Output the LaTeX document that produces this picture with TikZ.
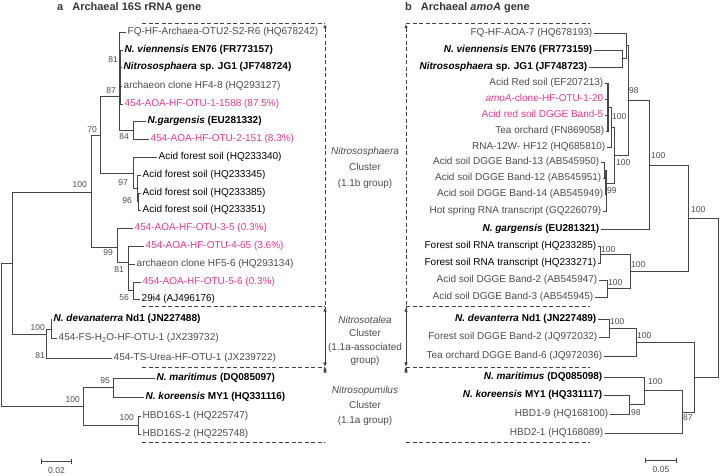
\documentclass[tikz,border=0pt]{standalone}
\usepackage{fontspec}
\setmainfont{Liberation Sans}
\usetikzlibrary{arrows.meta}
\definecolor{treeline}{RGB}{70,70,70}
\definecolor{leafgray}{RGB}{75,75,75}
\definecolor{titlegray}{RGB}{55,55,55}
\definecolor{otupink}{RGB}{224,60,145}
\definecolor{dashgray}{RGB}{65,65,65}
\tikzstyle{leafa}=[anchor=west, inner sep=1.5pt, text height=7.2pt, text depth=2pt, font=\fontsize{10}{12}\selectfont, text=leafgray]
\tikzstyle{leafb}=[leafa, anchor=east]
\tikzstyle{strain}=[text=black, font=\fontsize{10}{12}\selectfont\bfseries]
\tikzstyle{otu}=[text=otupink]
\tikzstyle{env}=[text=black]
\tikzstyle{br}=[draw=treeline, line width=0.8pt]
\tikzstyle{boot}=[inner sep=0pt, font=\fontsize{8.5}{10}\selectfont, text=leafgray]
\tikzstyle{clusterbox}=[draw=dashgray, line width=0.8pt, dash pattern=on 4pt off 2.5pt]
\tikzstyle{clusterarrow}=[clusterbox, {Latex[length=4pt,width=3.5pt]}-{Latex[length=4pt,width=3.5pt]}]
\tikzstyle{clusterlabel}=[align=center, text=leafgray, inner sep=0pt]
\tikzstyle{paneltitle}=[anchor=west, inner sep=0pt, font=\fontsize{11}{13}\selectfont\bfseries, text=titlegray]
\begin{document}
\begin{tikzpicture}[x=1pt,y=-1pt]
\useasboundingbox (0,0) rectangle (720,475);
\node[paneltitle] (ta) at (57,8) {a\hspace{9pt}Archaeal 16S rRNA gene};
\node[paneltitle] (tb) at (405,8) {b\hspace{9pt}Archaeal \textit{amoA} gene};

\node[leafa] (a1) at (126,32) {FQ-HF-Archaea-OTU2-S2-R6 (HQ678242)};
\node[leafa,strain] (a2) at (123,50) {\textit{N. viennensis} EN76 (FR773157)};
\node[leafa,strain] (a3) at (122,67) {\textit{Nitrososphaera} sp. JG1 (JF748724)};
\node[leafa] (a4) at (122,86) {archaeon clone HF4-8 (HQ293127)};
\node[leafa,otu] (a5) at (123,104) {454-AOA-HF-OTU-1-1588 (87.5\%)};
\node[leafa,strain] (a6) at (146,121) {\textit{N.gargensis} (EU281332)};
\node[leafa,otu] (a7) at (149,139) {454-AOA-HF-OTU-2-151 (8.3\%)};
\node[leafa,env] (a8) at (157,157) {Acid forest soil (HQ233340)};
\node[leafa,env] (a9) at (141,175) {Acid forest soil (HQ233345)};
\node[leafa,env] (a10) at (141,193) {Acid forest soil (HQ233385)};
\node[leafa,env] (a11) at (141,210) {Acid forest soil (HQ233351)};
\node[leafa,otu] (a12) at (133,228) {454-AOA-HF-OTU-3-5 (0.3\%)};
\node[leafa,otu] (a13) at (144,246) {454-AOA-HF-OTU-4-65 (3.6\%)};
\node[leafa] (a14) at (135,264) {archaeon clone HF5-6 (HQ293134)};
\node[leafa,otu] (a15) at (141,282) {454-AOA-HF-OTU-5-6 (0.3\%)};
\node[leafa,env] (a16) at (140,299) {29i4 (AJ496176)};
\node[leafa,strain] (a17) at (52,319) {\textit{N. devanaterra} Nd1 (JN227488)};
\node[leafa] (a18) at (57,338) {454-FS-H\textsubscript{2}O-HF-OTU-1 (JX239732)};
\node[leafa] (a19) at (112,358) {454-TS-Urea-HF-OTU-1 (JX239722)};
\node[leafa,strain] (a20) at (155,378) {\textit{N. maritimus} (DQ085097)};
\node[leafa,strain] (a21) at (144,397) {\textit{N. koreensis} MY1 (HQ331116)};
\node[leafa] (a22) at (141,416) {HBD16S-1 (HQ225747)};
\node[leafa] (a23) at (141,434) {HBD16S-2 (HQ225748)};

\coordinate (ia81) at (120,77);
\coordinate (ia84) at (133,130);
\coordinate (ia87) at (119,96);
\coordinate (ia96) at (138,201.5);
\coordinate (ia97) at (137,188);
\coordinate (iaAF) at (133,173);
\coordinate (ia70) at (100,135);
\coordinate (ia56) at (133,290.5);
\coordinate (ia81b) at (128,262);
\coordinate (ia99) at (117,247);
\coordinate (ia100) at (91,192);
\coordinate (iaDF) at (51,329);
\coordinate (iaTal) at (46,334);
\coordinate (ia12) at (12,263);
\coordinate (ia95) at (113,387.5);
\coordinate (iaHBD) at (138,425);
\coordinate (iaPum) at (83,406);
\coordinate (iaR) at (1.5,334);
\foreach \p/\c in {ia87/a1.west, ia87/ia81, ia87/ia84, ia81/a2.west, ia81/a3.west, ia81/a4.west, ia81/a5.west, ia84/a6.west, ia84/a7.west, ia70/ia87, ia70/iaAF, iaAF/a8.west, iaAF/ia97, ia97/a9.west, ia97/ia96, ia96/a10.west, ia96/a11.west, ia100/ia70, ia100/ia99, ia99/a12.west, ia99/ia81b, ia81b/a13.west, ia81b/a14.west, ia81b/ia56, ia56/a15.west, ia56/a16.west, ia12/ia100, ia12/iaTal, iaTal/iaDF, iaTal/a19.west, iaDF/a17.west, iaDF/a18.west, iaPum/ia95, iaPum/iaHBD, ia95/a20.west, ia95/a21.west, iaHBD/a22.west, iaHBD/a23.west, iaR/ia12, iaR/iaPum}
{
\draw[br] (\p) |- (\c);
}
\draw[br, line width=1.4pt] (ia81 |- a2.west) -- (ia81 |- a5.west);
\foreach \x/\y/\v [count=\i] in {118/60/81, 116/91/87, 97/130/70, 129/137/84, 87/185/100, 128/183/97, 132/201/96, 113/253/99, 124/270/81, 129/298/56, 45/328/100, 45/356/81, 110/381/95, 80/400/100, 134/418/100}
{
\node[boot,anchor=east] (la\i) at (\x,\y) {\v};
}

\node[leafb] (b1) at (594,33) {FQ-HF-AOA-7 (HQ678193)};
\node[leafb,strain] (b2) at (594,50) {\textit{N. viennensis} EN76 (FR773159)};
\node[leafb,strain] (b3) at (589,67) {\textit{Nitrososphaera} sp. JG1 (JF748723)};
\node[leafb] (b4) at (605,83) {Acid Red soil (EF207213)};
\node[leafb,otu] (b5) at (605,99) {\textit{amoA}-clone-HF-OTU-1-20};
\node[leafb,otu] (b6) at (605,115) {Acid red soil DGGE Band-5};
\node[leafb] (b7) at (606,131) {Tea orchard (FN869058)};
\node[leafb] (b8) at (607,147) {RNA-12W- HF12 (HQ685810)};
\node[leafb] (b9) at (601,162) {Acid soil DGGE Band-13 (AB545950)};
\node[leafb] (b10) at (603,178) {Acid soil DGGE Band-12 (AB545951)};
\node[leafb] (b11) at (605,194) {Acid soil DGGE Band-14 (AB545949)};
\node[leafb] (b12) at (603,211) {Hot spring RNA transcript (GQ226079)};
\node[leafb,strain] (b13) at (601,229) {\textit{N. gargensis} (EU281321)};
\node[leafb,env] (b14) at (598,246) {Forest soil RNA transcript (HQ233285)};
\node[leafb,env] (b15) at (598,263) {Forest soil RNA transcript (HQ233271)};
\node[leafb] (b16) at (599,280) {Acid soil DGGE Band-2 (AB545947)};
\node[leafb] (b17) at (595,297) {Acid soil DGGE Band-3 (AB545945)};
\node[leafb,strain] (b18) at (598,319) {\textit{N. devanterra} Nd1 (JN227489)};
\node[leafb] (b19) at (599,337) {Forest soil DGGE Band-2 (JQ972032)};
\node[leafb] (b20) at (604,356) {Tea orchard DGGE Band-6 (JQ972036)};
\node[leafb,strain] (b21) at (604,377) {\textit{N. maritimus} (DQ085098)};
\node[leafb,strain] (b22) at (604,395) {\textit{N. koreensis} MY1 (HQ331117)};
\node[leafb] (b23) at (610,414) {HBD1-9 (HQ168100)};
\node[leafb] (b24) at (605,433) {HBD2-1 (HQ168089)};

\coordinate (ibA) at (622,58.5);
\coordinate (ibB) at (626,45.75);
\coordinate (ibC1) at (608,107);
\coordinate (ibC) at (611,127);
\coordinate (ibD1) at (604,170);
\coordinate (ibD) at (606,183);
\coordinate (ibE) at (614,155);
\coordinate (ib98) at (628,100.4);
\coordinate (ibF) at (649,165.5);
\coordinate (ibI1) at (600,254.5);
\coordinate (ibI2) at (607,288.5);
\coordinate (ibI) at (630,271.5);
\coordinate (ibG) at (688,218.5);
\coordinate (ibJp) at (609,328);
\coordinate (ibJ) at (636,342);
\coordinate (ibK1) at (629,404.5);
\coordinate (ibK) at (644,390.75);
\coordinate (ibL) at (682,411.9);
\coordinate (ibH) at (694,377);
\coordinate (ibR) at (718,297.75);
\foreach \p/\c in {ibB/b1.east, ibB/ibA, ibA/b2.east, ibA/b3.east, ib98/ibB, ib98/ibE, ibE/ibC, ibE/ibD, ibC/ibC1, ibC/b8.east, ibC1/b4.east, ibC1/b5.east, ibC1/b6.east, ibC1/b7.east, ibD/ibD1, ibD/b11.east, ibD/b12.east, ibD1/b9.east, ibD1/b10.east, ibF/ib98, ibF/b13.east, ibG/ibF, ibG/ibI, ibI/ibI1, ibI/ibI2, ibI1/b14.east, ibI1/b15.east, ibI2/b16.east, ibI2/b17.east, ibR/ibG, ibR/ibH, ibH/ibJ, ibH/ibL, ibJ/ibJp, ibJ/b20.east, ibJp/b18.east, ibJp/b19.east, ibL/ibK, ibL/b24.east, ibK/b21.east, ibK/ibK1, ibK1/b22.east, ibK1/b23.east}
{
\draw[br] (\p) |- (\c);
}
\draw[br, line width=1.4pt] (ibC1 |- b4.east) -- (ibC1 |- b7.east);
\draw[br, line width=1.4pt] (ibD |- ibD1) -- (ibD |- b11.east);
\foreach \x/\y/\v [count=\i] in {629/91/98, 612/117/100, 616/163/100, 607/191/99, 651/156/100, 691/210/100, 601/250/100, 631/265/100, 608/283/100, 610/322/100, 637/336/100, 648/382/100, 631/413/98, 683/418/87}
{
\node[boot,anchor=west] (lb\i) at (\x,\y) {\v};
}

\foreach \y [count=\i] in {23,306.5,367.5,442.5}
{
\coordinate (sa\i) at (142,\y);
\coordinate (ea\i) at (325,\y);
\coordinate (sb\i) at (406,\y);
\coordinate (eb\i) at (590,\y);
\draw[clusterbox] (sa\i) -- (ea\i) (sb\i) -- (eb\i);
}
\foreach \i in {1,2,3}
{
\pgfmathparse{int(\i+1)}
\draw[clusterarrow] ([yshift=-1pt]ea\i) -- ([yshift=1pt]ea\pgfmathresult);
\draw[clusterarrow] ([yshift=-1pt]sb\i) -- ([yshift=1pt]sb\pgfmathresult);
}
\node[clusterlabel, font=\fontsize{10}{16}\selectfont] (ca1) at (365,168) {\textit{Nitrososphaera}\\Cluster\\(1.1b group)};
\node[clusterlabel, font=\fontsize{10}{13.5}\selectfont] (ca2) at (365,341) {\textit{Nitrosotalea}\\Cluster\\(1.1a-associated\\group)};
\node[clusterlabel, font=\fontsize{10}{15}\selectfont] (ca3) at (365,406) {\textit{Nitrosopumilus}\\Cluster\\(1.1a group)};

\coordinate (sca1) at (41,461);
\coordinate (sca2) at (72,461);
\coordinate (scb1) at (645,460);
\coordinate (scb2) at (677,460);
\draw[br, {Bar[width=5pt]}-{Bar[width=5pt]}] (sca1) -- (sca2);
\draw[br, {Bar[width=5pt]}-{Bar[width=5pt]}] (scb1) -- (scb2);
\node[boot] (sla) at (56.5,471) {0.02};
\node[boot] (slb) at (661,470) {0.05};
\end{tikzpicture}
\end{document}
